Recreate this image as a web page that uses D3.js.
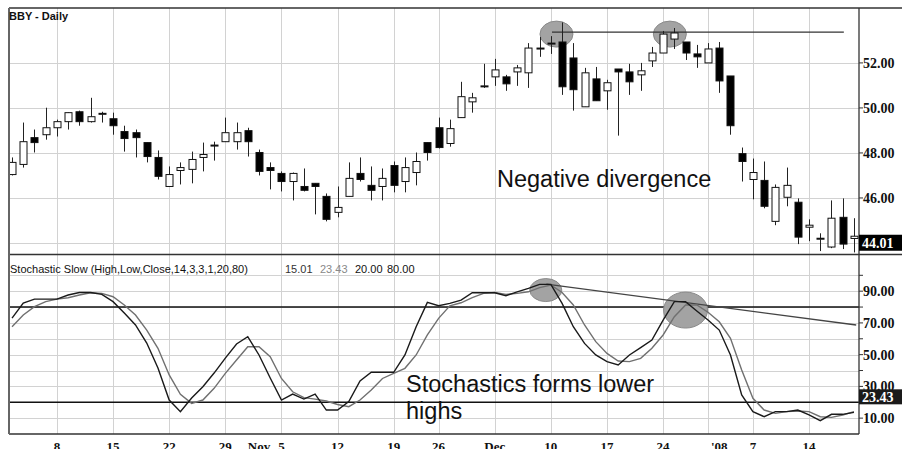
<!DOCTYPE html>
<html>
<head>
<meta charset="utf-8">
<script src="https://cdn.jsdelivr.net/npm/d3@7/dist/d3.min.js"></script>
<style>
body { margin: 0; background: #fff; }
svg { display: block; }
</style>
</head>
<body>
<div id="chart"></div>
<script>
// trading days, Oct 2 2007 .. Jan 18 2008
var dates = [
  "2007-10-02","2007-10-03","2007-10-04","2007-10-05",
  "2007-10-08","2007-10-09","2007-10-10","2007-10-11","2007-10-12",
  "2007-10-15","2007-10-16","2007-10-17","2007-10-18","2007-10-19",
  "2007-10-22","2007-10-23","2007-10-24","2007-10-25","2007-10-26",
  "2007-10-29","2007-10-30","2007-10-31","2007-11-01","2007-11-02",
  "2007-11-05","2007-11-06","2007-11-07","2007-11-08","2007-11-09",
  "2007-11-12","2007-11-13","2007-11-14","2007-11-15","2007-11-16",
  "2007-11-19","2007-11-20","2007-11-21","2007-11-23",
  "2007-11-26","2007-11-27","2007-11-28","2007-11-29","2007-11-30",
  "2007-12-03","2007-12-04","2007-12-05","2007-12-06","2007-12-07",
  "2007-12-10","2007-12-11","2007-12-12","2007-12-13","2007-12-14",
  "2007-12-17","2007-12-18","2007-12-19","2007-12-20","2007-12-21",
  "2007-12-24","2007-12-26","2007-12-27","2007-12-28",
  "2007-12-31","2008-01-02","2008-01-03","2008-01-04",
  "2008-01-07","2008-01-08","2008-01-09","2008-01-10","2008-01-11",
  "2008-01-14","2008-01-15","2008-01-16","2008-01-17","2008-01-18"
];

var open  = [47.04,47.49,48.68,48.81,49.12,49.39,49.83,49.39,49.72,49.52,
             48.95,48.90,48.46,47.80,46.51,47.22,47.27,47.80,48.31,48.50,
             48.50,48.99,48.02,47.35,47.09,46.73,46.51,46.65,46.07,45.36,
             46.07,47.09,46.56,46.51,47.44,46.73,47.13,48.46,49.12,48.42,
             49.57,50.27,50.96,51.38,51.38,51.60,51.56,52.64,52.86,52.93,
             52.22,50.05,51.29,50.76,51.73,51.60,51.47,52.09,52.44,53.06,
             52.93,52.40,52.00,52.66,51.42,47.97,46.82,46.78,44.96,46.03,
             45.81,44.70,44.19,43.82,45.14,44.20];
var high  = [47.80,49.35,49.04,50.01,49.48,49.80,49.88,50.45,49.83,49.79,
             49.21,49.04,48.46,48.11,47.40,47.58,48.06,48.46,48.50,49.57,
             49.35,49.12,48.15,47.58,47.18,47.13,47.31,46.65,46.20,46.51,
             47.58,47.80,47.40,47.31,47.62,47.80,48.02,48.46,49.57,49.48,
             51.16,50.67,51.96,52.18,51.47,51.91,52.88,53.15,53.19,53.80,
             52.88,51.78,51.82,51.25,51.73,51.96,52.00,52.71,53.42,53.55,
             52.93,52.80,52.88,52.93,51.42,48.24,47.75,47.62,46.60,47.35,
             45.98,45.05,44.43,45.89,45.98,45.10];
var low   = [47.00,47.35,48.02,48.59,48.73,49.04,49.21,49.35,49.35,48.81,
             48.06,47.80,47.58,46.82,46.51,46.60,46.65,47.18,47.66,48.50,
             48.15,47.84,47.00,46.38,46.29,45.89,46.29,45.27,44.96,45.14,
             46.07,46.73,45.89,45.89,46.25,46.25,46.56,47.66,48.20,48.28,
             49.57,49.79,50.89,50.98,50.76,50.98,50.89,52.27,52.40,50.58,
             49.88,50.05,50.32,49.92,48.77,50.58,50.76,51.82,52.44,52.62,
             52.13,51.78,52.00,50.67,48.81,46.73,45.94,45.54,44.79,45.63,
             43.95,44.08,43.64,43.77,43.73,43.58];
var close = [47.58,48.50,48.46,49.12,49.39,49.79,49.39,49.61,49.76,49.21,
             48.64,48.68,47.84,46.96,47.04,47.35,47.71,47.93,48.35,48.90,
             48.90,48.50,47.18,47.22,46.73,47.09,46.34,46.51,45.05,45.58,
             46.87,46.82,46.34,46.87,46.56,47.35,47.62,48.02,48.24,49.08,
             50.50,50.45,50.98,51.69,51.07,51.78,52.66,52.66,52.88,50.94,
             50.81,51.56,50.32,51.12,51.60,51.16,51.65,52.44,53.28,53.33,
             52.44,52.27,52.62,51.20,49.21,47.62,47.13,45.63,46.47,46.56,
             44.26,44.79,44.21,45.10,43.95,44.30];

var stochK = [73.0,82.5,85.0,85.0,85.0,87.6,89.2,89.2,88.0,83.4,
              76.2,68.7,57.3,41.6,21.4,14.1,22.7,29.8,38.4,47.8,
              56.7,61.3,49.8,35.3,21.4,25.2,22.0,25.2,15.1,15.1,
              20.4,33.4,38.9,38.9,38.9,49.8,67.6,82.9,80.8,82.3,
              84.4,89.0,89.0,89.0,87.1,89.6,91.8,94.3,94.3,82.3,
              67.6,57.1,49.8,45.6,43.5,49.8,54.4,59.2,71.8,83.4,
              83.4,77.5,71.8,65.5,49.8,24.6,14.1,10.9,14.1,14.1,
              15.1,12.0,8.4,12.4,12.4,13.6];
var stochD = [67.6,75.0,80.2,83.4,85.0,85.9,87.6,89.0,88.6,86.5,
              81.3,75.0,65.5,54.0,37.2,25.0,19.3,21.4,28.8,38.2,
              46.6,55.0,55.0,48.7,35.0,26.6,22.9,22.0,20.8,18.6,
              17.2,21.4,27.7,35.0,38.2,41.4,49.8,62.4,72.9,80.8,
              82.7,85.9,88.6,89.2,88.0,88.6,89.6,92.2,93.9,89.2,
              81.3,68.7,58.2,50.8,46.0,45.6,47.7,54.0,62.4,73.9,
              81.3,81.3,76.7,70.7,60.3,40.3,22.5,15.1,13.0,14.1,
              14.5,14.1,10.9,10.5,12.0,14.1];

var lastPrice = 44.01;
var lastK = 15.01, lastD = 23.43;
var priceTicks = [44, 46, 48, 50, 52];
var stochGrid = [10, 20, 30, 40, 50, 60, 70, 80, 90, 100];
var stochLabels = [10, 30, 50, 70, 90];
var stochLevels = [20, 80];

// annotations (bar index, value)
var priceCircles = [{i: 48.5, v: 53.28}, {i: 58.6, v: 53.28}];
var resistance = [{i: 48.1, v: 53.37}, {i: 74.1, v: 53.37}];
var stochCircles = [{i: 47.55, v: 90.7, rx: 16, ry: 11.5}, {i: 60.0, v: 78.1, rx: 22, ry: 18}];
var stochTrend = [{i: 47.6, v: 94.5}, {i: 75.2, v: 68.7}];

var W = 902, H = 449;
var L = 9, R = 859, TOP = 8, MID = 255, BOT = 434;

var svg = d3.select("#chart").append("svg")
    .attr("width", W)
    .attr("height", H);

var x = d3.scaleLinear().domain([-0.27, 75.45]).range([L, R]);
var y = d3.scaleLinear().domain([43.51, 54.44]).range([MID - 1, TOP]);
var y2 = d3.scaleLinear().domain([0, 112.8]).range([BOT, MID]);

var parse = d3.timeParse("%Y-%m-%d");
var days = dates.map(parse);

// week starts -> vertical grid; month starts -> month label
var weekStarts = [], monthStarts = [];
days.forEach(function(d, i) {
    if (i == 0) return;
    if (d.getDay() < days[i - 1].getDay()) weekStarts.push(i);
    if (d.getMonth() != days[i - 1].getMonth()) monthStarts.push(i);
});

var grid = svg.append("g").attr("stroke", "#d2d2d2").attr("stroke-width", 1);
weekStarts.forEach(function(i) {
    grid.append("line")
        .attr("x1", Math.round(x(i)) + 0.5).attr("x2", Math.round(x(i)) + 0.5)
        .attr("y1", TOP).attr("y2", BOT);
});
priceTicks.forEach(function(v) {
    grid.append("line")
        .attr("x1", L).attr("x2", R)
        .attr("y1", Math.round(y(v)) + 0.5).attr("y2", Math.round(y(v)) + 0.5);
});
stochGrid.forEach(function(v) {
    grid.append("line")
        .attr("x1", L).attr("x2", R)
        .attr("y1", Math.round(y2(v)) + 0.5).attr("y2", Math.round(y2(v)) + 0.5);
});

// highlight circles under the candles
priceCircles.forEach(function(c) {
    svg.append("ellipse")
        .attr("cx", x(c.i)).attr("cy", y(c.v))
        .attr("rx", 16.5).attr("ry", 13)
        .attr("fill", "#a3a3a3").attr("stroke", "#8a8a8a");
});
svg.append("line")
    .attr("x1", x(resistance[0].i)).attr("x2", x(resistance[1].i))
    .attr("y1", y(resistance[0].v)).attr("y2", y(resistance[1].v))
    .attr("stroke", "#333").attr("stroke-width", 1.3);

// candles
var candles = svg.append("g");
dates.forEach(function(d, i) {
    var cx = Math.round(x(i)) + 0.5;
    candles.append("line")
        .attr("x1", cx).attr("x2", cx)
        .attr("y1", y(high[i])).attr("y2", y(low[i]))
        .attr("stroke", "#222").attr("stroke-width", 1);
    var up = close[i] >= open[i];
    var top = y(Math.max(open[i], close[i]));
    var bot = y(Math.min(open[i], close[i]));
    candles.append("rect")
        .attr("x", cx - 3.5).attr("width", 7)
        .attr("y", top).attr("height", Math.max(1, bot - top))
        .attr("fill", up ? "#fff" : "#000")
        .attr("stroke", "#111").attr("stroke-width", 1);
});

// stochastic panel
stochLevels.forEach(function(v) {
    svg.append("line")
        .attr("x1", L).attr("x2", R)
        .attr("y1", y2(v)).attr("y2", y2(v))
        .attr("stroke", "#111").attr("stroke-width", 1.6);
});
stochCircles.forEach(function(c) {
    svg.append("ellipse")
        .attr("cx", x(c.i)).attr("cy", y2(c.v))
        .attr("rx", c.rx).attr("ry", c.ry)
        .attr("fill", "#a3a3a3").attr("stroke", "#8a8a8a");
});
svg.append("line")
    .attr("x1", x(stochTrend[0].i)).attr("x2", x(stochTrend[1].i))
    .attr("y1", y2(stochTrend[0].v)).attr("y2", y2(stochTrend[1].v))
    .attr("stroke", "#444").attr("stroke-width", 1.3);

var lineGen = d3.line()
    .x(function(d, i) { return x(i); })
    .y(function(d) { return y2(d); });
svg.append("path")
    .attr("d", lineGen(stochD))
    .attr("fill", "none").attr("stroke", "#707070").attr("stroke-width", 1.4);
svg.append("path")
    .attr("d", lineGen(stochK))
    .attr("fill", "none").attr("stroke", "#1a1a1a").attr("stroke-width", 1.4);

// frame
var frame = svg.append("g").attr("stroke", "#333").attr("fill", "none");
frame.append("line").attr("x1", L).attr("x2", W).attr("y1", TOP).attr("y2", TOP).attr("stroke-width", 1.5);
frame.append("line").attr("x1", L).attr("x2", W).attr("y1", MID - 0.5).attr("y2", MID - 0.5).attr("stroke-width", 1.5);
frame.append("line").attr("x1", L).attr("x2", R).attr("y1", BOT).attr("y2", BOT).attr("stroke-width", 1.5);
frame.append("line").attr("x1", R).attr("x2", R).attr("y1", TOP).attr("y2", BOT).attr("stroke-width", 1.3);
frame.append("line").attr("x1", L).attr("x2", L).attr("y1", TOP).attr("y2", BOT)
    .attr("stroke", "#666").attr("stroke-width", 2);

// right axis
var fmt = d3.format(".2f");
var axis = svg.append("g")
    .style("font-family", "'Liberation Serif', 'Times New Roman', serif")
    .style("font-weight", "bold")
    .style("font-size", "14px")
    .attr("fill", "#111");
priceTicks.forEach(function(v) {
    axis.append("line").attr("x1", R).attr("x2", R + 4)
        .attr("y1", y(v)).attr("y2", y(v)).attr("stroke", "#333");
    axis.append("text").attr("x", R + 4).attr("y", y(v)).attr("dy", "0.35em").text(fmt(v));
});
stochGrid.forEach(function(v) {
    axis.append("line").attr("x1", R).attr("x2", R + 4)
        .attr("y1", y2(v)).attr("y2", y2(v)).attr("stroke", "#333");
});
stochLabels.forEach(function(v) {
    axis.append("text").attr("x", R + 4).attr("y", y2(v)).attr("dy", "0.35em").text(fmt(v));
});

// last value boxes
axis.append("rect").attr("x", R).attr("y", y(lastPrice) - 8).attr("width", W - R).attr("height", 16).attr("fill", "#000");
axis.append("text").attr("x", R + 3).attr("y", y(lastPrice)).attr("dy", "0.35em").attr("fill", "#fff").text(fmt(lastPrice));
axis.append("rect").attr("x", R).attr("y", y2(lastD) - 7.5).attr("width", W - R).attr("height", 15).attr("fill", "#1a1a1a");
axis.append("text").attr("x", R + 3).attr("y", y2(lastD)).attr("dy", "0.35em").attr("fill", "#fff").text(fmt(lastD));

// date labels
var monthFmt = d3.timeFormat("%b");
var labels = [];
monthStarts.forEach(function(i) {
    var d = days[i];
    labels.push({i: i, t: d.getMonth() == 0 ? "'" + d3.timeFormat("%y")(d) : monthFmt(d)});
});
weekStarts.forEach(function(i) {
    if (monthStarts.indexOf(i) >= 0) return;
    var near = monthStarts.some(function(m) { return Math.abs(x(m) - x(i)) < 20; });
    if (!near) labels.push({i: i, t: String(days[i].getDate())});
});
labels.forEach(function(l) {
    axis.append("text")
        .attr("x", x(l.i)).attr("y", 451)
        .style("font-size", "13px")
        .attr("text-anchor", "middle")
        .text(l.t);
});

// titles
var sans = "'Liberation Sans', Arial, sans-serif";
svg.append("text").attr("x", 9).attr("y", 20)
    .style("font-family", sans).style("font-size", "11px").style("font-weight", "bold")
    .attr("fill", "#111").text("BBY - Daily");

var st = svg.append("text").attr("x", 10).attr("y", 273)
    .style("font-family", sans).style("font-size", "11px").attr("fill", "#111");
st.append("tspan").text("Stochastic Slow (High,Low,Close,14,3,3,1,20,80)");
st.append("tspan").attr("x", 285).attr("fill", "#333").text(fmt(lastK));
st.append("tspan").attr("x", 320).attr("fill", "#888").text(fmt(lastD));
st.append("tspan").attr("x", 355).text(fmt(stochLevels[0]));
st.append("tspan").attr("x", 387).text(fmt(stochLevels[1]));

// annotation text
svg.append("text")
    .attr("x", x(43.2)).attr("y", y(46.49))
    .style("font-family", sans).style("font-size", "23.5px")
    .attr("fill", "#111").text("Negative divergence");

var note = svg.append("text")
    .attr("x", x(35.1)).attr("y", y2(26.5))
    .style("font-family", sans).style("font-size", "23.5px")
    .attr("fill", "#111");
note.append("tspan").text("Stochastics forms lower");
note.append("tspan").attr("x", x(35.1)).attr("dy", 27).text("highs");
</script>
</body>
</html>
